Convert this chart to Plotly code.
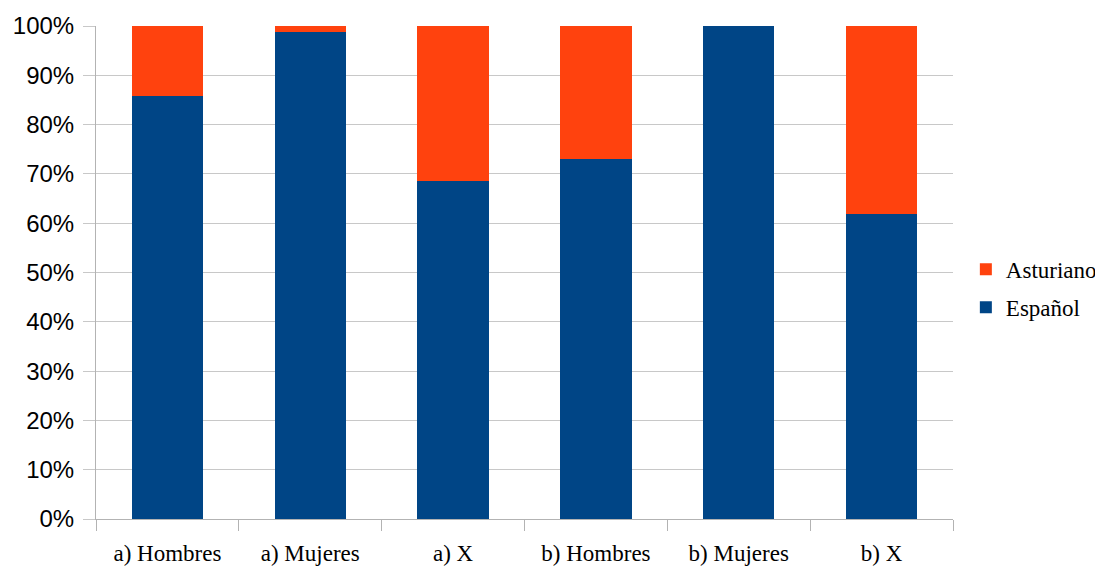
import plotly.graph_objects as go

categories = ["a) Hombres", "a) Mujeres", "a) X", "b) Hombres", "b) Mujeres", "b) X"]
espanol = [85.8, 98.8, 68.6, 73.0, 100.0, 61.9]
asturiano = [14.2, 1.2, 31.4, 27.0, 0.0, 38.1]
ytick_vals = [0, 10, 20, 30, 40, 50, 60, 70, 80, 90, 100]
ytick_text = [f"{v}%" for v in ytick_vals]

fig = go.Figure()
fig.add_trace(go.Bar(x=categories, y=espanol, name="Español", marker_color="#004586",
                     marker_line_width=0, legendgroup="e", legendrank=2))
fig.add_trace(go.Bar(x=categories, y=asturiano, name="Asturiano", marker_color="#ff420e",
                     marker_line_width=0, legendgroup="a", legendrank=1))

fig.update_layout(
    width=1103, height=567,
    barmode="stack", bargap=0.5,
    plot_bgcolor="white", paper_bgcolor="white",
    margin=dict(l=88, r=158, t=18, b=56, autoexpand=False),
    legend=dict(x=1.015, y=0.468, xanchor="left", yanchor="middle",
                traceorder="grouped", tracegroupgap=5,
                font=dict(family="Liberation Serif", size=23, color="black")),
)
fig.update_xaxes(
    type="category", tickson="boundaries", ticks="outside", ticklen=11,
    tickcolor="#b3b3b3", showline=True, linecolor="#b3b3b3", linewidth=1,
    showgrid=False, automargin=False, ticklabelstandoff=13,
    tickfont=dict(family="Liberation Serif", size=23, color="black"),
)
fig.update_yaxes(
    range=[0, 100], tickvals=ytick_vals, ticktext=ytick_text,
    showgrid=True, gridcolor="#c8c8c8", gridwidth=1,
    ticks="outside", ticklen=12, tickcolor="#c8c8c8",
    showline=True, linecolor="#b3b3b3", zeroline=False,
    automargin=False, ticklabelstandoff=4,
    tickfont=dict(family="Liberation Sans", size=24, color="black"),
)
fig.write_html("out.html")
